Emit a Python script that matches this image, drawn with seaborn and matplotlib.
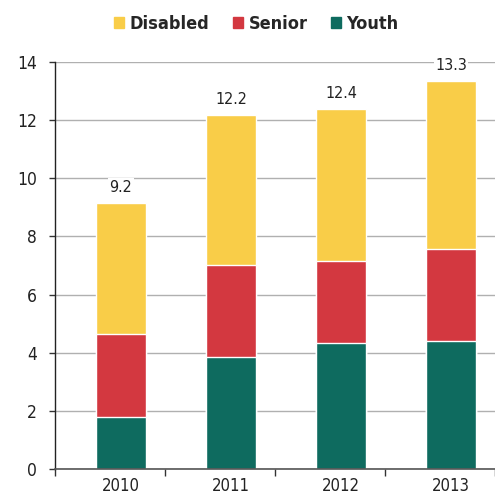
import matplotlib
matplotlib.use("Agg")
import matplotlib.pyplot as plt
import matplotlib.patches as mpatches
import seaborn as sns
import numpy as np
import pandas as pd

years = ["2010", "2011", "2012", "2013"]
youth = [1.80, 3.86, 4.32, 4.41]
senior = [2.84, 3.16, 2.82, 3.16]
disabled = [4.51, 5.16, 5.24, 5.78]
total_labels = ["9.2", "12.2", "12.4", "13.3"]

colors = {"Disabled": "#F9CD48", "Senior": "#D33840", "Youth": "#0E6B5F"}

sns.set_theme(style="white")
plt.rcParams["font.family"] = ["DejaVu Sans"]
plt.rcParams["font.stretch"] = "condensed"

df = pd.DataFrame({"year": years, "Youth": youth, "Senior": senior, "Disabled": disabled})
df["lvl_senior"] = df["Youth"] + df["Senior"]
df["lvl_total"] = df["lvl_senior"] + df["Disabled"]

fig = plt.figure(figsize=(4.95, 4.98), dpi=100)
ax = fig.add_axes([0.111, 0.058, 0.889, 0.8175])
ax.set_axisbelow(True)
ax.yaxis.grid(True, color="#b0b0b0", linewidth=1)

sns.barplot(data=df, x="year", y="lvl_total", color=colors["Disabled"], width=0.45,
            saturation=1, ax=ax)
sns.barplot(data=df, x="year", y="lvl_senior", color=colors["Senior"], width=0.45,
            saturation=1, ax=ax)
sns.barplot(data=df, x="year", y="Youth", color=colors["Youth"], width=0.45,
            saturation=1, ax=ax)

ax.bar_label(ax.containers[0], labels=total_labels, padding=6, fontsize=11.5,
             color="#222222", bbox=dict(facecolor="white", edgecolor="none", pad=1))

ax.set_ylim(0, 14)
ax.set_xlim(-0.6, 3.4)
ax.set_yticks(range(0, 15, 2))
ax.set_xlabel("")
ax.set_ylabel("")
ax.tick_params(axis="y", length=4, width=1, color="#333333", labelsize=12.5, pad=9, left=True)
ax.tick_params(axis="x", length=0, labelsize=12, pad=6)
ax.set_xticks(np.arange(-0.6, 3.5, 1), minor=True)
ax.tick_params(axis="x", which="minor", length=5, width=1, color="#333333", bottom=True)
for lab in ax.get_xticklabels() + ax.get_yticklabels():
    lab.set_color("#222222")

for s in ["top", "right"]:
    ax.spines[s].set_visible(False)
ax.spines["left"].set_color("#222222")
ax.spines["bottom"].set_color("#555555")
ax.spines["left"].set_linewidth(1)
ax.spines["bottom"].set_linewidth(1.2)

handles = [mpatches.Patch(color=colors[k], label=k) for k in ["Disabled", "Senior", "Youth"]]
leg = fig.legend(handles=handles, loc="center", bbox_to_anchor=(0.518, 0.952), ncol=3,
                 frameon=False, handlelength=0.55, handleheight=0.55, handletextpad=0.3,
                 columnspacing=1.3, prop={"weight": "bold", "size": 13})

fig.savefig("out.png", dpi=100)
